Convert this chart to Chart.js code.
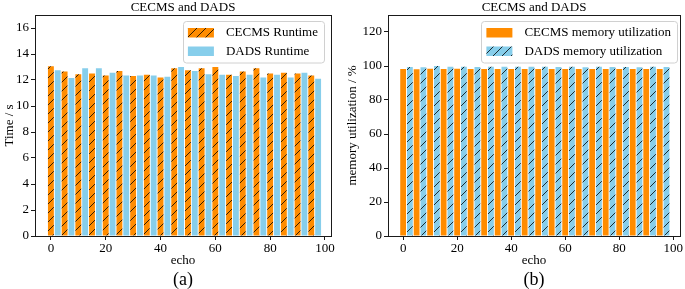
<!DOCTYPE html>
<html><head><meta charset="utf-8">
<script src="https://cdn.jsdelivr.net/npm/chart.js@4/dist/chart.umd.min.js"></script>
<style>
html,body{margin:0;padding:0;background:#fff;}
#wrap{position:relative;width:685px;height:289px;overflow:hidden;}
.box{position:absolute;top:0;height:289px;}
canvas{display:block;}
</style></head><body>
<div id="wrap">
<div class="box" style="left:0;width:342px"><canvas id="c1" width="342" height="289"></canvas></div>
<div class="box" style="left:342px;width:343px"><canvas id="c2" width="343" height="289"></canvas></div>
</div>
<script>
// ---- data ----
const echo = [0,5,10,15,20,25,30,35,40,45,50,55,60,65,70,75,80,85,90,95];
const cecmsRuntime = [13.05,12.65,12.45,12.5,12.35,12.7,12.3,12.4,12.2,12.9,12.75,12.9,13.0,12.4,12.65,12.9,12.5,12.55,12.5,12.35];
const dadsRuntime  = [12.75,12.15,12.9,12.9,12.55,12.35,12.35,12.35,12.25,13.0,12.7,12.45,12.4,12.3,12.4,12.2,12.4,12.2,12.55,12.1];
const cecmsMemory  = [98.2,98.1,98.4,98.3,98.4,98.3,98.3,98.3,98.3,98.3,98.3,98.3,98.3,98.3,98.3,98.3,98.3,98.3,98.3,98.3];
const dadsMemory   = [99.4,99.3,100.0,99.6,99.5,99.4,99.5,99.6,99.5,99.6,99.5,99.4,99.5,99.3,99.6,99.4,99.4,99.3,99.5,99.4];
const xTicks = [0,20,40,60,80,100];
const runtimeTicks = [0,2,4,6,8,10,12,14,16];
const memoryTicks = [0,20,40,60,80,100,120];
const runtimeLabels = ['CECMS Runtime','DADS Runtime'];
const memoryLabels = ['CECMS memory utilization','DADS memory utilization'];

// ---- style ----
const ORANGE = '#FF8C00', BLUE = '#87CEEB', AX = '#1a1a1a';
const FONT = '"Liberation Serif", "Times New Roman", serif';
const barOffset = 2.5; // second series sits one bar width to the right

function hatch(bg){
  const n = 9;
  const c = document.createElement('canvas'); c.width = n; c.height = n;
  const x = c.getContext('2d');
  x.fillStyle = bg; x.fillRect(0,0,n,n);
  x.strokeStyle = '#000'; x.lineWidth = 0.8;
  x.beginPath();
  x.moveTo(0,n); x.lineTo(n,0);
  x.moveTo(-2,2); x.lineTo(2,-2);
  x.moveTo(n-2,n+2); x.lineTo(n+2,n-2);
  x.stroke();
  return x.createPattern(c,'repeat');
}

function decorPlugin(cfg){
  return {
    id: 'decor',
    afterDraw(chart){
      const ctx = chart.ctx, a = chart.chartArea;
      ctx.save();
      ctx.strokeStyle = AX; ctx.lineWidth = 1;
      ctx.strokeRect(Math.round(a.left)+0.5, Math.round(a.top)+0.5, Math.round(a.right-a.left), Math.round(a.bottom-a.top));
      ctx.fillStyle = '#000';
      ctx.textAlign = 'center'; ctx.textBaseline = 'middle';
      const cx = (a.left + a.right)/2;
      ctx.font = '13px ' + FONT;
      ctx.fillText(cfg.title, cx, 7.5);
      ctx.fillText('echo', cx, 261);
      ctx.font = '18px ' + FONT;
      ctx.fillText(cfg.sub, cx, 280);
      ctx.font = '13px ' + FONT;
      ctx.save();
      ctx.translate(cfg.ylabelX, (a.top + a.bottom)/2);
      ctx.rotate(-Math.PI/2);
      ctx.fillText(cfg.ylabel, 0, 0);
      ctx.restore();
      // legend
      const ds = chart.data.datasets;
      ctx.font = '13px ' + FONT;
      const tw = Math.max(...ds.map(d => ctx.measureText(d.label).width));
      const boxW = 5 + 26 + 12 + tw + 6;
      const bx = a.right - cfg.legGap - boxW, by = 21.5, bh = 41.5;
      ctx.fillStyle = 'rgba(255,255,255,0.85)';
      ctx.strokeStyle = '#d0d0d0'; ctx.lineWidth = 1;
      ctx.beginPath();
      ctx.roundRect(Math.round(bx)+0.5, by, Math.round(boxW), bh, 3);
      ctx.fill(); ctx.stroke();
      ds.forEach((d, i) => {
        const ry = by + 6.5 + i*18.5;
        ctx.fillStyle = d.backgroundColor;
        ctx.fillRect(bx + 5, ry, 26, 9.5);
        ctx.fillStyle = '#000';
        ctx.textAlign = 'left';
        ctx.fillText(d.label, bx + 43, ry + 5);
      });
      ctx.restore();
    }
  };
}

function makeChart(id, opts){
  const canvas = document.getElementById(id);
  const ctx = canvas.getContext('2d');
  const bg0 = opts.hatchFirst ? hatch(ORANGE) : ORANGE;
  const bg1 = opts.hatchFirst ? BLUE : hatch(BLUE);
  new Chart(ctx, {
    type: 'bar',
    data: {
      datasets: [
        { label: opts.labels[0], data: echo.map((e,i)=>({x:e, y:opts.s0[i]})), backgroundColor: bg0, borderWidth: 0 },
        { label: opts.labels[1], data: echo.map((e,i)=>({x:e + barOffset, y:opts.s1[i]})), backgroundColor: bg1, borderWidth: 0 }
      ]
    },
    options: {
      responsive: false, animation: false,
      layout: { padding: { top: 15, right: opts.padRight, bottom: 0, left: 0 } },
      datasets: { bar: { grouped: false, barPercentage: 0.86, categoryPercentage: 1 } },
      plugins: { legend: { display: false }, tooltip: { enabled: false }, title: { display: false } },
      scales: {
        x: {
          type: 'linear', min: opts.xmin, max: opts.xmax, offset: false,
          afterBuildTicks: s => { s.ticks = xTicks.map(v => ({ value: v })); },
          afterFit: s => { s.height = 53; },
          grid: { drawOnChartArea: false, drawTicks: true, tickLength: 4, color: AX, offset: false },
          border: { display: true, color: AX },
          ticks: { color: '#000', font: { family: FONT, size: 13 }, padding: 1, maxRotation: 0 }
        },
        y: {
          type: 'linear', min: 0, max: opts.ymax,
          afterBuildTicks: s => { s.ticks = opts.yTicks.map(v => ({ value: v })); },
          afterFit: s => { s.width = opts.yWidth; },
          grid: { drawOnChartArea: false, drawTicks: true, tickLength: 4, color: AX },
          border: { display: true, color: AX },
          ticks: { color: '#000', font: { family: FONT, size: 13 }, padding: 2 }
        }
      }
    },
    plugins: [decorPlugin(opts)]
  });
}

makeChart('c1', {
  hatchFirst: true, labels: runtimeLabels, s0: cecmsRuntime, s1: dadsRuntime,
  xmin: -5.8, xmax: 102.2, ymax: 17, yTicks: runtimeTicks, yWidth: 35, padRight: 11,
  title: 'CECMS and DADS', sub: '(a)', ylabel: 'Time / s', ylabelX: 10, legGap: 7
});
makeChart('c2', {
  hatchFirst: false, labels: memoryLabels, s0: cecmsMemory, s1: dadsMemory,
  xmin: -5.6, xmax: 102.5, ymax: 130, yTicks: memoryTicks, yWidth: 46, padRight: 5,
  title: 'CECMS and DADS', sub: '(b)', ylabel: 'memory utilization / %', ylabelX: 11, legGap: 3
});
</script>
</body></html>
